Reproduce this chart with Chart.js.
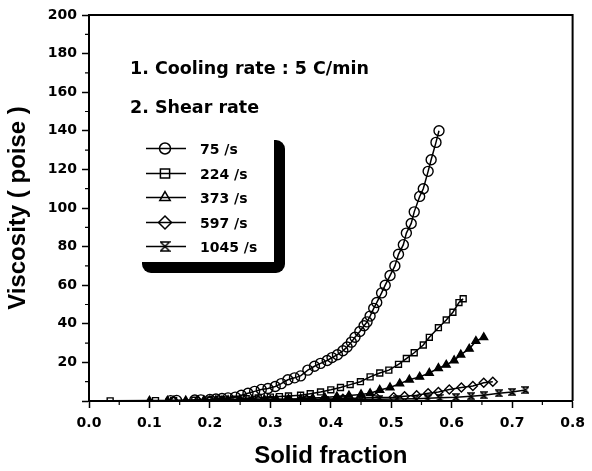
<!DOCTYPE html>
<html>
<head>
<meta charset="utf-8">
<script src="https://cdn.jsdelivr.net/npm/chart.js@4.4.1/dist/chart.umd.min.js"></script>
<style>
  body { margin: 0; background: #fff; }
  canvas { display: block; }
</style>
</head>
<body>
<canvas id="myChart" width="592" height="471"></canvas>
<script>
// shear rates (legend)
var shearLabels = ["75 /s", "224 /s", "373 /s", "597 /s", "1045 /s"];

// solid fraction / viscosity (poise)
var fs75 = [0.135,0.145,0.175,0.185,0.2,0.21,0.22,0.23,0.242,0.252,0.263,0.274,0.285,0.296,0.308,0.318,0.329,0.34,0.35,0.362,0.373,0.383,0.394,0.402,0.411,0.42,0.427,0.434,0.44,0.448,0.455,0.46,0.465,0.471,0.476,0.484,0.49,0.498,0.506,0.512,0.52,0.525,0.533,0.538,0.547,0.553,0.561,0.566,0.574,0.579];
var v75 = [0.2,0.3,0.5,0.6,0.8,1.0,1.3,1.6,2,3,4,5,6,6.5,7.5,9,11,12,13,16,18,19.5,21,22.5,24,26,28,30.5,33,36,39,41,44,48,51,56,60,65,70,76,81,87,92,98,106,110,119,125,134,140];

var fs224 = [0.035,0.11,0.14,0.175,0.2,0.22,0.24,0.26,0.28,0.3,0.315,0.33,0.35,0.366,0.383,0.4,0.416,0.432,0.449,0.465,0.481,0.496,0.512,0.525,0.538,0.553,0.563,0.578,0.591,0.602,0.612,0.619];
var v224 = [0.1,0.2,0.3,0.4,0.5,0.7,0.9,1.2,1.6,2.0,2.3,2.6,3.0,3.8,4.7,5.8,7,8.5,10,12.5,14.5,16,19,22,25,29,33,38,42,46,51,53];

var fs373 = [0.1,0.13,0.16,0.19,0.21,0.23,0.25,0.27,0.29,0.31,0.33,0.35,0.37,0.39,0.41,0.43,0.45,0.465,0.481,0.498,0.514,0.53,0.547,0.563,0.578,0.591,0.604,0.615,0.629,0.64,0.653];
var v373 = [0.1,0.1,0.2,0.3,0.4,0.5,0.6,0.7,0.8,0.9,1.0,1.2,1.5,1.8,2.3,2.8,3.4,4,5.7,7,9,11,12.5,14.5,17,18.7,21,24,27,31,33];

var fs597 = [0.14,0.18,0.2,0.22,0.25,0.28,0.3,0.33,0.36,0.39,0.42,0.45,0.475,0.504,0.522,0.542,0.561,0.578,0.596,0.616,0.635,0.653,0.668];
var v597 = [0.1,0.1,0.2,0.2,0.3,0.4,0.5,0.6,0.8,1.0,1.2,1.5,1.8,2,2.5,3,4,4.7,6,7,7.8,9.5,10];

var fs1045 = [0.3,0.33,0.36,0.39,0.42,0.45,0.48,0.51,0.54,0.56,0.58,0.607,0.632,0.653,0.678,0.7,0.722];
var v1045 = [0.3,0.4,0.5,0.6,0.7,0.8,0.9,1.0,1.2,1.4,1.7,2,2.5,3,4,4.7,5.7];

var noteLines = ["1. Cooling rate : 5 C/min", "2. Shear rate"];

function pts(xs, ys) {
    return xs.map(function (x, i) { return {x: x, y: ys[i]}; });
}

// hourglass marker (no built-in pointStyle for it)
function hourglass(size) {
    var c = document.createElement("canvas");
    c.width = size; c.height = size;
    var g = c.getContext("2d");
    var a = 1, b = size - 1;
    g.strokeStyle = "#000";
    g.lineWidth = 1.5;
    g.beginPath();
    g.moveTo(a, a); g.lineTo(b, a); g.lineTo(a, b); g.lineTo(b, b); g.closePath();
    g.stroke();
    return c;
}
var hgSmall = hourglass(8);
var hgBig = hourglass(11);

var legendStyles = [
    {pointStyle: "circle", radius: 5.5},
    {pointStyle: "rect", radius: 6.5},
    {pointStyle: "triangle", radius: 6},
    {pointStyle: "rectRot", radius: 6.5},
    {pointStyle: hgBig, radius: 6}
];

var FONT = '"DejaVu Sans", sans-serif';

var frameAndNotes = {
    id: "frameAndNotes",
    afterDraw: function (chart) {
        var ctx = chart.ctx, a = chart.chartArea;
        var xs = chart.scales.x, ys = chart.scales.y;
        ctx.save();
        // top and right border
        ctx.strokeStyle = "#000";
        ctx.lineWidth = 2;
        ctx.beginPath();
        ctx.moveTo(a.left, a.top); ctx.lineTo(a.right, a.top); ctx.lineTo(a.right, a.bottom);
        ctx.stroke();
        // minor ticks
        ctx.lineWidth = 1.2;
        ctx.beginPath();
        for (var v = 10; v < 200; v += 20) {
            var py = ys.getPixelForValue(v);
            ctx.moveTo(a.left - 4, py); ctx.lineTo(a.left, py);
        }
        for (var u = 0.05; u < 0.8; u += 0.1) {
            var px = xs.getPixelForValue(u);
            ctx.moveTo(px, a.bottom); ctx.lineTo(px, a.bottom + 4);
        }
        ctx.stroke();

        // notes
        ctx.fillStyle = "#000";
        ctx.font = "bold 17.5px " + FONT;
        ctx.textBaseline = "alphabetic";
        ctx.fillText(noteLines[0], 130, 74);
        ctx.fillText(noteLines[1], 130, 113);

        // legend box with shadow
        ctx.fillStyle = "#000";
        ctx.beginPath();
        ctx.roundRect(142, 140, 143, 133, 9);
        ctx.fill();
        ctx.fillStyle = "#fff";
        ctx.fillRect(132, 130, 142, 132);

        chart.data.datasets.forEach(function (ds, i) {
            var y = Math.round(148 + i * 24.5) + 0.5;
            ctx.strokeStyle = "#000";
            ctx.lineWidth = 1.5;
            ctx.beginPath();
            ctx.moveTo(146, y); ctx.lineTo(186, y);
            ctx.stroke();
            ctx.fillStyle = "rgba(255,255,255,0)";
            var st = legendStyles[i];
            Chart.helpers.drawPoint(ctx, {pointStyle: st.pointStyle, radius: st.radius, borderWidth: 1.4, rotation: 0}, 165, y);
            ctx.fillStyle = "#000";
            ctx.font = "bold 14px " + FONT;
            ctx.fillText(ds.label, 200, y + 5);
        });
        ctx.restore();
    }
};

function series(label, data, style, radius, fill) {
    return {
        label: label,
        data: data,
        showLine: true,
        borderColor: "#000",
        borderWidth: 1.5,
        pointStyle: style,
        pointRadius: radius,
        pointBorderColor: "#000",
        pointBorderWidth: 1.4,
        pointBackgroundColor: fill,
        tension: 0
    };
}

var ctx = document.getElementById("myChart");
var myChart = new Chart(ctx, {
    type: "scatter",
    data: {
        datasets: [
            series(shearLabels[0], pts(fs75, v75), "circle", 5, "rgba(255,255,255,0)"),
            series(shearLabels[1], pts(fs224, v224), "rect", 4.2, "rgba(255,255,255,0)"),
            series(shearLabels[2], pts(fs373, v373), "triangle", 4.5, "#000"),
            series(shearLabels[3], pts(fs597, v597), "rectRot", 4.5, "rgba(255,255,255,0)"),
            series(shearLabels[4], pts(fs1045, v1045), hgSmall, 4, "rgba(255,255,255,0)")
        ]
    },
    options: {
        responsive: false,
        animation: false,
        devicePixelRatio: 1,
        layout: { padding: { top: 15, right: 15, left: 0, bottom: 0 } },
        plugins: { legend: { display: false }, tooltip: { enabled: false } },
        scales: {
            x: {
                type: "linear",
                min: 0,
                max: 0.8,
                afterFit: function (s) { s.height = 70; },
                ticks: {
                    stepSize: 0.1,
                    color: "#000",
                    padding: 7,
                    maxRotation: 0,
                    font: { family: FONT, weight: "bold", size: 14 },
                    callback: function (v) { return v.toFixed(1); }
                },
                grid: { drawOnChartArea: false, tickLength: 7, tickColor: "#000", tickWidth: 1.5 },
                border: { color: "#000", width: 2 },
                title: {
                    display: true,
                    text: "Solid fraction",
                    color: "#000",
                    padding: { top: 0, bottom: 0 },
                    font: { family: '"Liberation Sans", Arial, sans-serif', weight: "bold", size: 24 }
                }
            },
            y: {
                min: 0,
                max: 200,
                afterFit: function (s) { s.width = 89; },
                ticks: {
                    stepSize: 20,
                    color: "#000",
                    padding: 5,
                    font: { family: FONT, weight: "bold", size: 14 },
                    callback: function (v) { return v === 0 ? "" : v; }
                },
                grid: { drawOnChartArea: false, tickLength: 7, tickColor: "#000", tickWidth: 1.5 },
                border: { color: "#000", width: 2 },
                title: {
                    display: true,
                    text: "Viscosity ( poise )",
                    color: "#000",
                    padding: { top: 4, bottom: 0 },
                    font: { family: '"Liberation Sans", Arial, sans-serif', weight: "bold", size: 24 }
                }
            }
        }
    },
    plugins: [frameAndNotes]
});
</script>
</body>
</html>
